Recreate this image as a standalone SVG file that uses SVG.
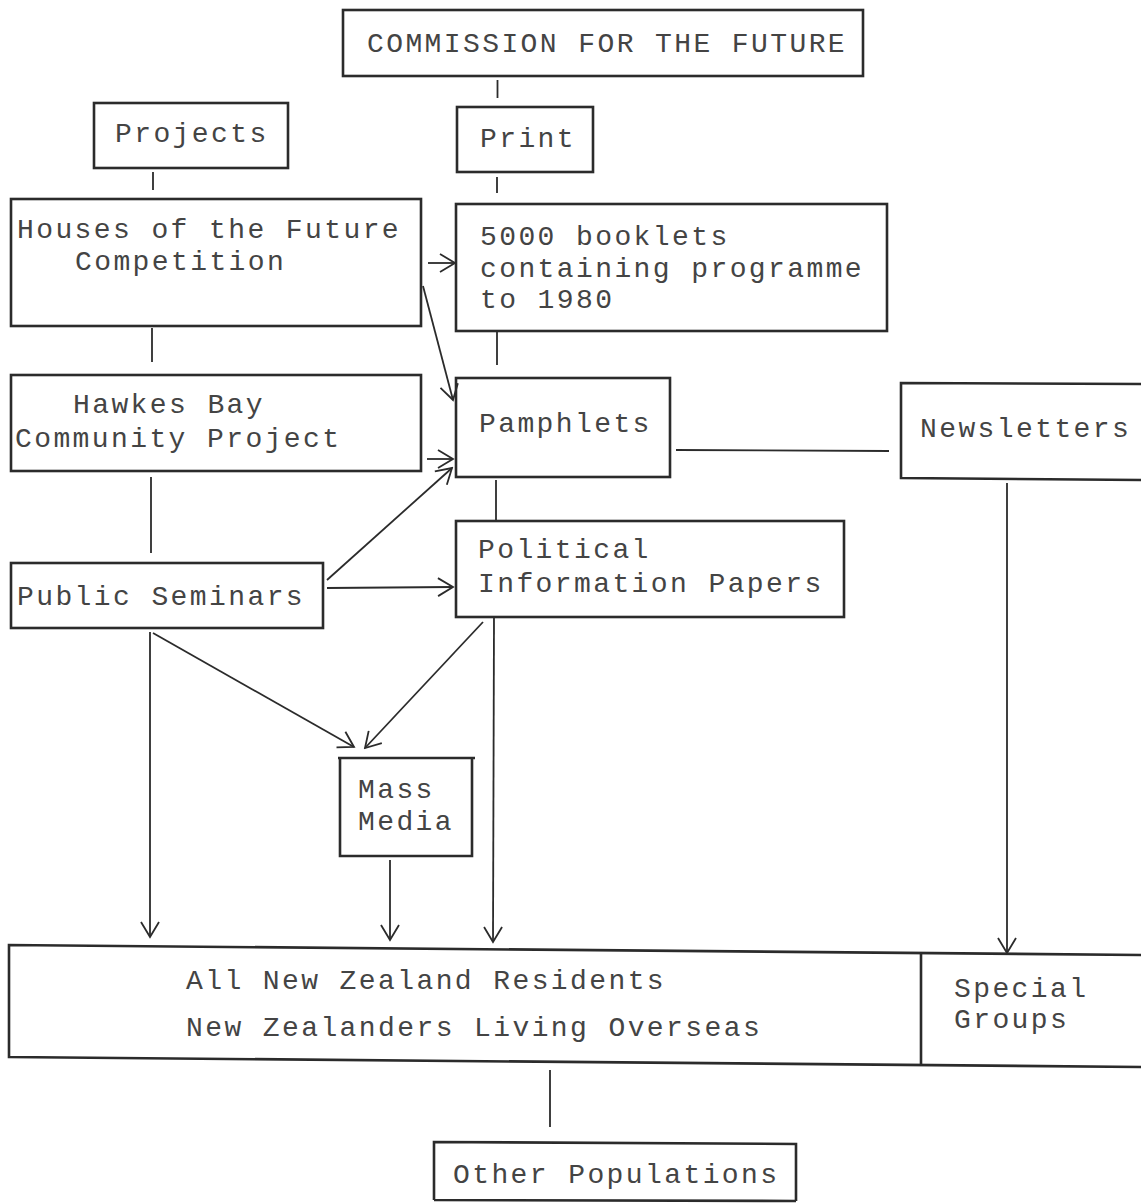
<svg xmlns="http://www.w3.org/2000/svg" width="1141" height="1203" viewBox="0 0 1141 1203">
<style>
.box{fill:none;stroke:#2b2b2b;stroke-width:2.6}
.t{font-family:"Liberation Mono","Courier New",monospace;font-size:28px;letter-spacing:2.4px;fill:#444444}
.c{fill:none;stroke:#2b2b2b;stroke-width:1.8}
.a{fill:none;stroke:#2b2b2b;stroke-width:1.8;marker-end:url(#arr)}
</style>
<defs>
<marker id="arr" viewBox="0 0 20 20" refX="18" refY="10" markerWidth="20" markerHeight="20" markerUnits="userSpaceOnUse" orient="auto">
<path d="M3,1 L18,10 L3,19" fill="none" stroke="#2b2b2b" stroke-width="1.8"/>
</marker>
</defs>
<rect width="1141" height="1203" fill="#ffffff"/>
<g id="commission"><rect class="box" x="343" y="10" width="520" height="66"/><text class="t" x="367" y="52">COMMISSION FOR THE FUTURE</text></g>
<g id="projects"><rect class="box" x="94" y="103" width="194" height="65"/><text class="t" x="115" y="142">Projects</text></g>
<g id="print"><rect class="box" x="457" y="107" width="136" height="65"/><text class="t" x="480" y="147">Print</text></g>
<g id="houses"><rect class="box" x="11" y="199" width="410" height="127"/><text class="t" x="17" y="238">Houses of the Future</text><text class="t" x="75" y="270">Competition</text></g>
<g id="booklets"><rect class="box" x="456" y="204" width="431" height="127"/><text class="t" x="480" y="245">5000 booklets</text><text class="t" x="480" y="277">containing programme</text><text class="t" x="480" y="308">to 1980</text></g>
<g id="hawkes"><rect class="box" x="11" y="375" width="410" height="96"/><text class="t" x="73" y="413">Hawkes Bay</text><text class="t" x="15" y="447">Community  Project</text></g>
<g id="pamphlets"><rect class="box" x="456" y="378" width="214" height="99"/><text class="t" x="479" y="432">Pamphlets</text></g>
<g id="newsletters"><path class="box" d="M1141,384 L901,383 L901,478 L1141,480"/><text class="t" x="920" y="437">Newsletters</text></g>
<g id="seminars"><rect class="box" x="11" y="563" width="312" height="65"/><text class="t" x="17" y="605">Public Seminars</text></g>
<g id="political"><rect class="box" x="456" y="521" width="388" height="96"/><text class="t" x="478" y="558">Political</text><text class="t" x="478" y="592">Information Papers</text></g>
<g id="massmedia"><path class="box" d="M338,758 L475,758 M340,758 L340,856 L472,856 L472,758"/><text class="t" x="358" y="798">Mass</text><text class="t" x="358" y="830">Media</text></g>
<g id="residents"><path class="box" d="M1141,955 L9,945 L9,1057 L1141,1067"/><text class="t" x="186" y="989">All New Zealand Residents</text><text class="t" x="186" y="1036">New Zealanders Living Overseas</text></g>
<g id="special"><line class="box" x1="921" y1="953" x2="921" y2="1066"/><text class="t" x="954" y="997">Special</text><text class="t" x="954" y="1028">Groups</text></g>
<g id="other"><path class="box" d="M434,1200 L434,1142 L796,1144 L796,1201 M434,1200 L796,1201"/><text class="t" x="453" y="1183">Other Populations</text></g>
<g id="connectors">
<line class="c" x1="497.5" y1="80" x2="497.5" y2="98"/>
<line class="c" x1="153" y1="172" x2="153" y2="190"/>
<line class="c" x1="497" y1="177" x2="497" y2="193"/>
<line class="c" x1="152" y1="328" x2="152" y2="362"/>
<line class="c" x1="497" y1="331" x2="497" y2="365"/>
<line class="c" x1="151" y1="477" x2="151" y2="553"/>
<line class="c" x1="496" y1="480" x2="496" y2="520"/>
<line class="c" x1="676" y1="450" x2="889" y2="451"/>
<line class="c" x1="550" y1="1070" x2="550" y2="1127"/>
<line class="a" x1="428" y1="263" x2="455" y2="263"/>
<line class="a" x1="423" y1="286" x2="453" y2="400"/>
<line class="a" x1="427" y1="459" x2="453" y2="459"/>
<line class="a" x1="327" y1="580" x2="452" y2="468"/>
<line class="a" x1="327" y1="588" x2="453" y2="587"/>
<line class="a" x1="1007" y1="483" x2="1007" y2="953"/>
<line class="a" x1="150" y1="632" x2="150" y2="937"/>
<line class="a" x1="153" y1="633" x2="354" y2="747"/>
<line class="a" x1="483" y1="622" x2="365" y2="748"/>
<line class="a" x1="494" y1="617" x2="493" y2="942"/>
<line class="a" x1="390" y1="860" x2="390" y2="940"/>
</g>
</svg>
